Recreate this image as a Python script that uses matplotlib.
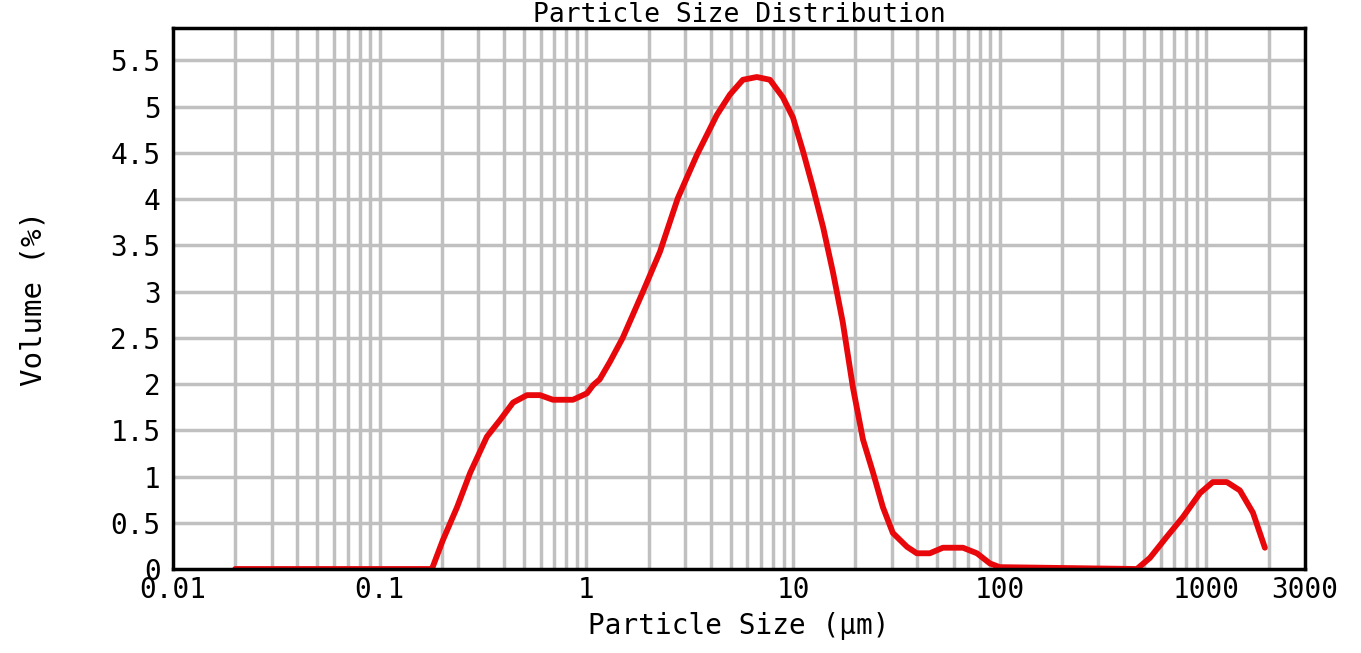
import matplotlib
matplotlib.use("Agg")
import matplotlib.pyplot as plt
import numpy as np

# particle size (um) and volume (%)
size_um = [0.02, 0.10, 0.179, 0.202, 0.237, 0.274, 0.330, 0.382, 0.442, 0.516,
           0.597, 0.689, 0.861, 1.007, 1.08, 1.16, 1.30, 1.50, 1.88, 2.27,
           2.77, 3.43, 4.28, 4.95, 5.72, 6.68, 7.73, 8.93, 10.0, 11.2,
           12.5, 14.0, 15.6, 17.4, 19.5, 21.8, 24.4, 27.2, 30.4, 35.6,
           39.7, 45.9, 53.1, 66.4, 77.6, 89.7, 100.0, 461.0, 533.0, 644.0,
           769.0, 931.0, 1074.0, 1256.0, 1452.0, 1679.0, 1919.0]
volume_pct = [0.0, 0.0, 0.0, 0.31, 0.67, 1.04, 1.43, 1.61, 1.80, 1.88,
              1.88, 1.83, 1.83, 1.90, 1.99, 2.05, 2.24, 2.50, 3.00, 3.43,
              4.01, 4.48, 4.91, 5.13, 5.29, 5.32, 5.29, 5.10, 4.88, 4.51,
              4.12, 3.69, 3.21, 2.67, 1.96, 1.40, 1.04, 0.67, 0.39, 0.24,
              0.17, 0.17, 0.23, 0.23, 0.17, 0.06, 0.02, 0.0, 0.12, 0.35,
              0.56, 0.82, 0.94, 0.94, 0.85, 0.61, 0.23]

x_ticks = [0.01, 0.1, 1, 10, 100, 1000, 3000]
x_tick_labels = ["0.01", "0.1", "1", "10", "100", "1000", "3000"]
y_ticks = np.arange(0, 5.51, 0.5)

plt.rcParams['font.family'] = ['DejaVu Sans Mono', 'DejaVu Sans']

fig = plt.figure(figsize=(13.61, 6.53), dpi=100)
ax = fig.add_axes([173 / 1361, 84 / 653, 1132 / 1361, 541 / 653])

# grid lines: every 1..9 x 10^k between the axis ends
grid_x = [m * 10.0 ** k for k in range(-2, 4) for m in range(1, 10)]
grid_x = [g for g in grid_x if 0.01 < g < 3000]
for g in grid_x:
    ax.axvline(g, color='#c0c0c0', lw=2.5, zorder=1)
for g in y_ticks[1:]:
    ax.axhline(g, color='#c0c0c0', lw=2.5, zorder=1)

ax.plot(size_um, volume_pct, color='#e8080c', lw=4.2,
        solid_joinstyle='round', solid_capstyle='round', zorder=3)

ax.set_xscale('log')
ax.set_xlim(0.01, 3000)
ax.set_ylim(0, 5.85)
ax.set_xticks(x_ticks)
ax.set_xticklabels(x_tick_labels)
ax.xaxis.set_minor_locator(matplotlib.ticker.NullLocator())
ax.set_yticks(y_ticks)
ax.set_yticklabels(['%g' % v for v in y_ticks])
ax.tick_params(length=0, labelsize=20, colors='black')
ax.tick_params(axis='x', pad=5)
ax.tick_params(axis='y', pad=9)

for s in ax.spines.values():
    s.set_linewidth(2.5)
    s.set_color('black')
    s.set_zorder(4)

ax.set_title('Particle Size Distribution', fontsize=19, pad=4)
ax.set_xlabel('Particle Size (\u00b5m)', fontsize=20, labelpad=6)
ax.set_ylabel('Volume (%)', fontsize=21, labelpad=45)

fig.savefig('out.png', dpi=100)
